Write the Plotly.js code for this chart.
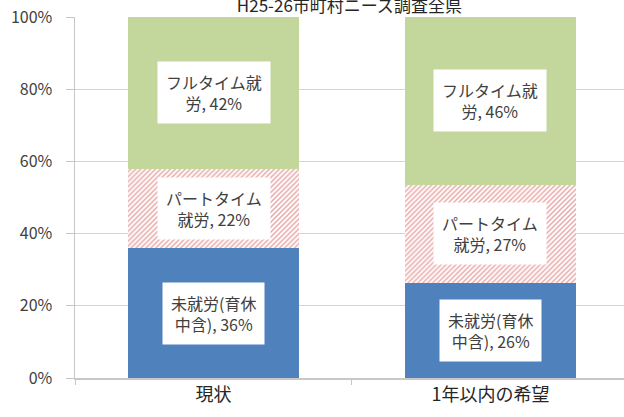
<!DOCTYPE html>
<html>
<head>
<meta charset="utf-8">
<script src="https://cdn.plot.ly/plotly-3.0.1.min.js"></script>
<style>html,body{margin:0;padding:0;background:#fff;}#chart{width:624px;height:417px;}</style>
</head>
<body>
<div id="chart"></div>
<script>
// Data
var categories = ['現状', '1年以内の希望'];
var seriesNames = ['未就労(育休中含)', 'パートタイム就労', 'フルタイム就労'];
var seriesLabelNames = ['未就労(育休<br>中含)', 'パートタイム<br>就労', 'フルタイム就<br>労'];
var unemployed = [36, 26];
var partTime = [22, 27];
var fullTime = [42, 46];
var chartTitle = 'H25-26市町村ニーズ調査全県';
var yTickVals = [0, 20, 40, 60, 80, 100];
var yTickText = ['0%', '20%', '40%', '60%', '80%', '100%'];

var seriesValues = [unemployed, partTime, fullTime];
var font = '"Noto Sans CJK JP", "Noto Sans", sans-serif';

var traces = [
  {
    type: 'bar', name: seriesNames[0], x: categories, y: unemployed,
    marker: {color: '#4f81bd', line: {width: 0}}, width: 0.62, hoverinfo: 'skip'
  },
  {
    type: 'bar', name: seriesNames[1], x: categories, y: partTime,
    marker: {color: '#ffffff', line: {width: 0},
      pattern: {shape: '/', fgcolor: '#e8a3a3', bgcolor: '#ffffff', size: 3.5, solidity: 0.4}},
    width: 0.62, hoverinfo: 'skip'
  },
  {
    type: 'bar', name: seriesNames[2], x: categories, y: fullTime,
    marker: {color: '#c3d69b', line: {width: 0}}, width: 0.62, hoverinfo: 'skip'
  }
];

// Label annotations placed at the middle of each normalized stacked segment
var annotations = [];
for (var c = 0; c < categories.length; c++) {
  var total = 0;
  for (var s = 0; s < seriesValues.length; s++) total += seriesValues[s][c];
  var base = 0;
  for (var s2 = 0; s2 < seriesValues.length; s2++) {
    var share = seriesValues[s2][c] / total * 100;
    annotations.push({
      x: categories[c], y: base + share / 2, xref: 'x', yref: 'y',
      text: seriesLabelNames[s2] + ', ' + seriesValues[s2][c] + '%',
      showarrow: false, bgcolor: '#ffffff', borderpad: 8, align: 'center',
      font: {family: font, size: 16, color: '#404040'}
    });
    base += share;
  }
}

var layout = {
  width: 624, height: 417,
  margin: {l: 75, r: 0, t: 17, b: 39, pad: 0},
  paper_bgcolor: '#ffffff', plot_bgcolor: '#ffffff',
  barmode: 'stack', barnorm: 'percent',
  showlegend: false,
  title: {text: chartTitle, x: 0.56, xanchor: 'center', y: 0.985, yref: 'container', yanchor: 'middle',
    font: {family: font, size: 17, color: '#262626'}},
  xaxis: {
    type: 'category', range: [-0.5, 1.482],
    showline: true, linecolor: '#c8c8c8', linewidth: 1.5,
    ticks: 'outside', tickson: 'boundaries', ticklen: 5, tickcolor: '#c8c8c8',
    showgrid: false, zeroline: false,
    tickfont: {family: font, size: 18, color: '#262626'}
  },
  yaxis: {
    range: [0, 100], tickmode: 'array', tickvals: yTickVals, ticktext: yTickText,
    showline: true, linecolor: '#c8c8c8', linewidth: 1.5,
    ticks: 'outside', ticklen: 8, tickcolor: '#c8c8c8',
    showgrid: true, gridcolor: '#d4d4d4', gridwidth: 1, zeroline: false,
    ticklabelstandoff: 10,
    tickfont: {family: font, size: 16, color: '#404040'}
  },
  annotations: annotations
};

Plotly.newPlot('chart', traces, layout, {displayModeBar: false, staticPlot: true});
</script>
</body>
</html>
